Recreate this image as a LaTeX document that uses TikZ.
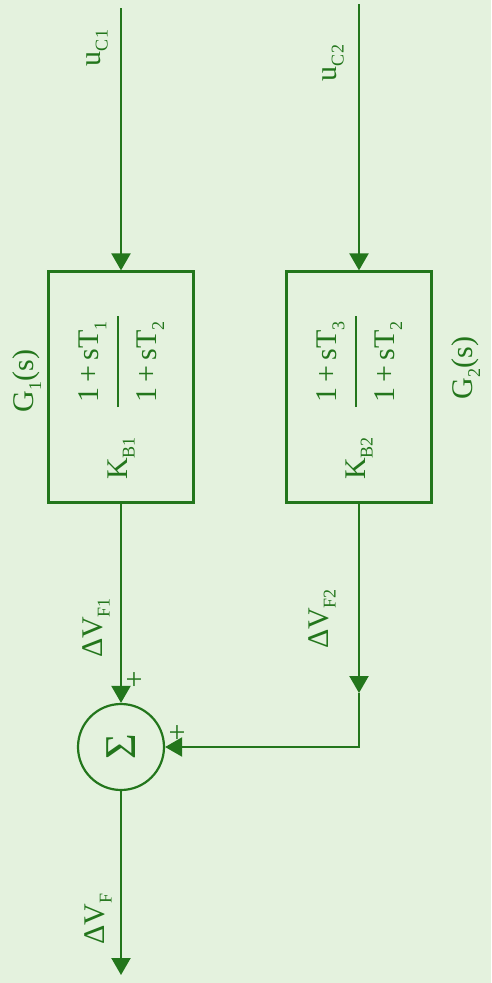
\documentclass[tikz,border=0pt]{standalone}
\usepackage{fontspec}
\setmainfont{Liberation Serif}
\usepackage{graphicx}
\usetikzlibrary{arrows.meta,positioning,calc}
\definecolor{inkgreen}{RGB}{35,118,28}
\definecolor{paper}{RGB}{228,242,222}
\newcommand{\lowsub}[1]{\raisebox{-0.25em}{\fontsize{18}{19}\selectfont #1}}
\newcommand{\tffrac}[2]{\setlength{\arrayrulewidth}{1.6pt}%
  \begin{tabular}{@{\,}c@{\,}}#1\\[8pt]\hline\rule{0pt}{38pt}#2\end{tabular}}

\begin{document}
\begin{tikzpicture}[x=1pt, y=1pt,
  every node/.style={text=inkgreen},
  tfblock/.style={rectangle, draw=inkgreen, line width=2.2pt,
                  minimum width=145pt, minimum height=231pt, inner sep=0pt},
  sigtext/.style={rotate=90, font=\fontsize{30}{34}\selectfont, inner sep=0pt},
  sumnode/.style={circle, draw=inkgreen, line width=2.2pt,
                  minimum size=86pt, inner sep=0pt, font=\fontsize{44}{48}\selectfont},
  arrow/.style={-{Triangle[length=17pt,width=19pt]}, draw=inkgreen, line width=2.2pt},
  sign/.style={font=\fontsize{30}{32}\selectfont, inner sep=0pt}
]
  % Background
  \fill[paper] (0,0) rectangle (491,-983);
  \useasboundingbox (0,0) rectangle (491,-983);

  % Blocks
  \node[tfblock] (B1) at (121,-387) {};
  \node[tfblock] (B2) at (359,-387) {};
  \node[sigtext] (tf1) at (121,-398)
    {K\lowsub{B1}\quad\tffrac{1\,+\,sT\lowsub{1}}{1\,+\,sT\lowsub{2}}};
  \node[sigtext] (tf2) at (359,-398)
    {K\lowsub{B2}\quad\tffrac{1\,+\,sT\lowsub{3}}{1\,+\,sT\lowsub{2}}};

  % Inputs
  \coordinate (in1) at (121,-8);
  \coordinate (in2) at (359,-4);
  \draw[arrow] (in1) -- (B1.north);
  \draw[arrow] (in2) -- (B2.north);

  % Summing point
  \node[sumnode] (sum) at (121,-747) {\rotatebox{90}{Σ}};
  \draw[arrow] (B1.south) -- (sum.north);
  \coordinate (fbmid) at (359,-693);
  \draw[arrow] (B2.south) -- (fbmid);
  \draw[arrow] (fbmid) |- (sum.east);

  % Output
  \coordinate (out) at (121,-975);
  \draw[arrow] (sum.south) -- (out);

  % Labels
  \node[sigtext] (uc1) at (97,-48) {u\lowsub{C1}};
  \node[sigtext] (uc2) at (333,-63) {u\lowsub{C2}};
  \node[sigtext] (g1) at (27,-381) {G\lowsub{1}(s)};
  \node[sigtext] (g2) at (466,-368) {G\lowsub{2}(s)};
  \node[sigtext] (dvf1) at (96,-628) {ΔV\lowsub{F1}};
  \node[sigtext] (dvf2) at (322,-619) {ΔV\lowsub{F2}};
  \node[sigtext] (dvf) at (98,-919) {ΔV\lowsub{F}};
  \node[sign] (p1) at (134,-681) {+};
  \node[sign] (p2) at (177,-734) {+};
\end{tikzpicture}
\end{document}
